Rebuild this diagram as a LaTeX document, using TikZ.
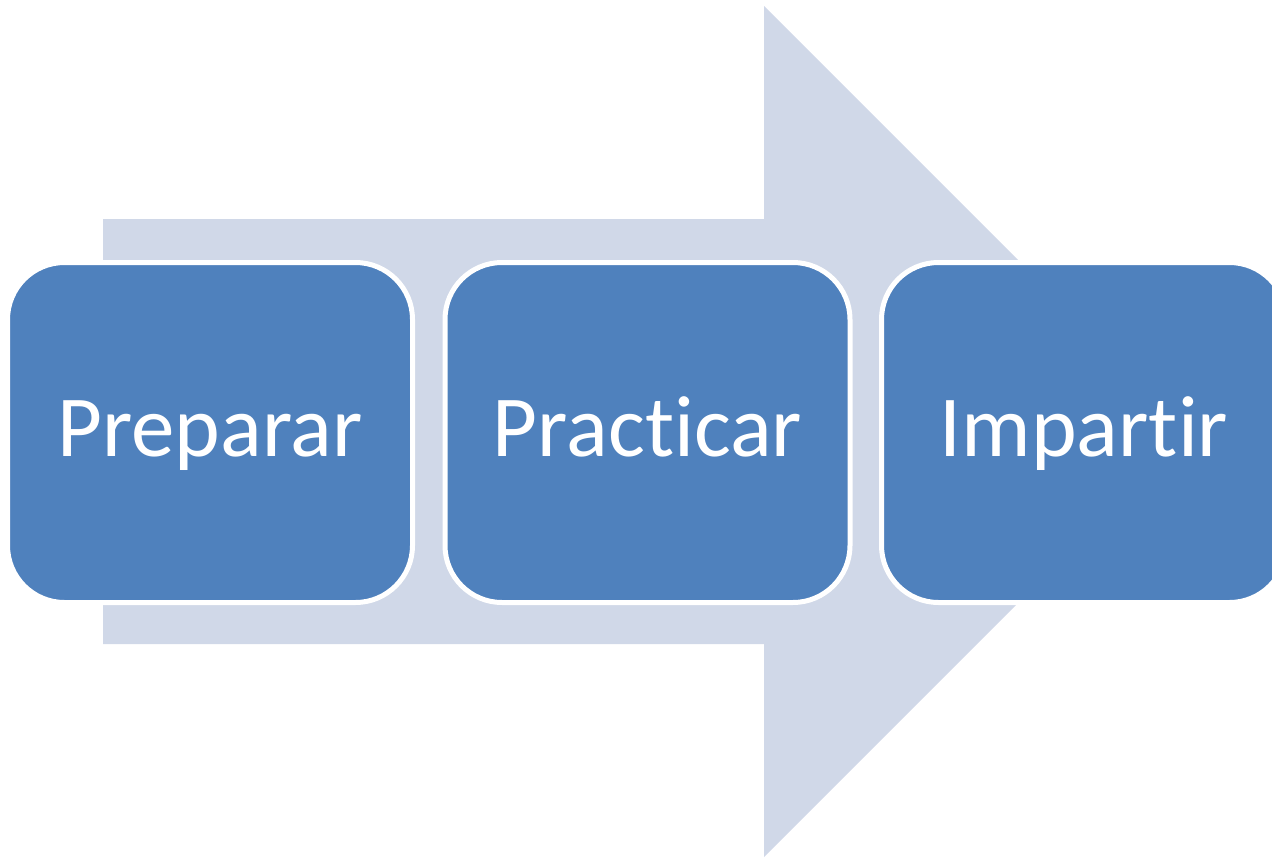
\documentclass[tikz,border=0pt]{standalone}
\usepackage{fontspec}
\setmainfont{Carlito}[Ligatures={NoCommon}]
\definecolor{arrowgray}{HTML}{D0D8E8}
\definecolor{boxblue}{HTML}{4F81BD}
\tikzset{stepbox/.style={draw=white, line width=5pt, fill=boxblue, rounded corners=57pt,
  minimum width=405pt, minimum height=340pt, inner sep=0pt, text=white,
  font=\fontsize{87}{87}\selectfont, text height=58pt, text depth=11pt}}
\begin{document}
\begin{tikzpicture}[x=1pt,y=-1pt]
\pgfmathsetmacro{\shaftw}{661}
\pgfmathsetmacro{\headh}{213}
\useasboundingbox (0,0) rectangle (1272,857);
\clip (0,0) rectangle (1272,857);
\fill[arrowgray] (103,219) -- ++(\shaftw,0) -- ++(0,-\headh) -- (1189.5,431.5) -- (764,857) -- ++(0,-\headh) -- ++(-\shaftw,0) -- cycle;
\node[stepbox] (preparar) at (210,432.5) {Preparar};
\node[stepbox] (practicar) at (647.5,432.5) {Practicar};
\node[stepbox] (impartir) at (1084,432.5) {Impartir};
\end{tikzpicture}
\end{document}
